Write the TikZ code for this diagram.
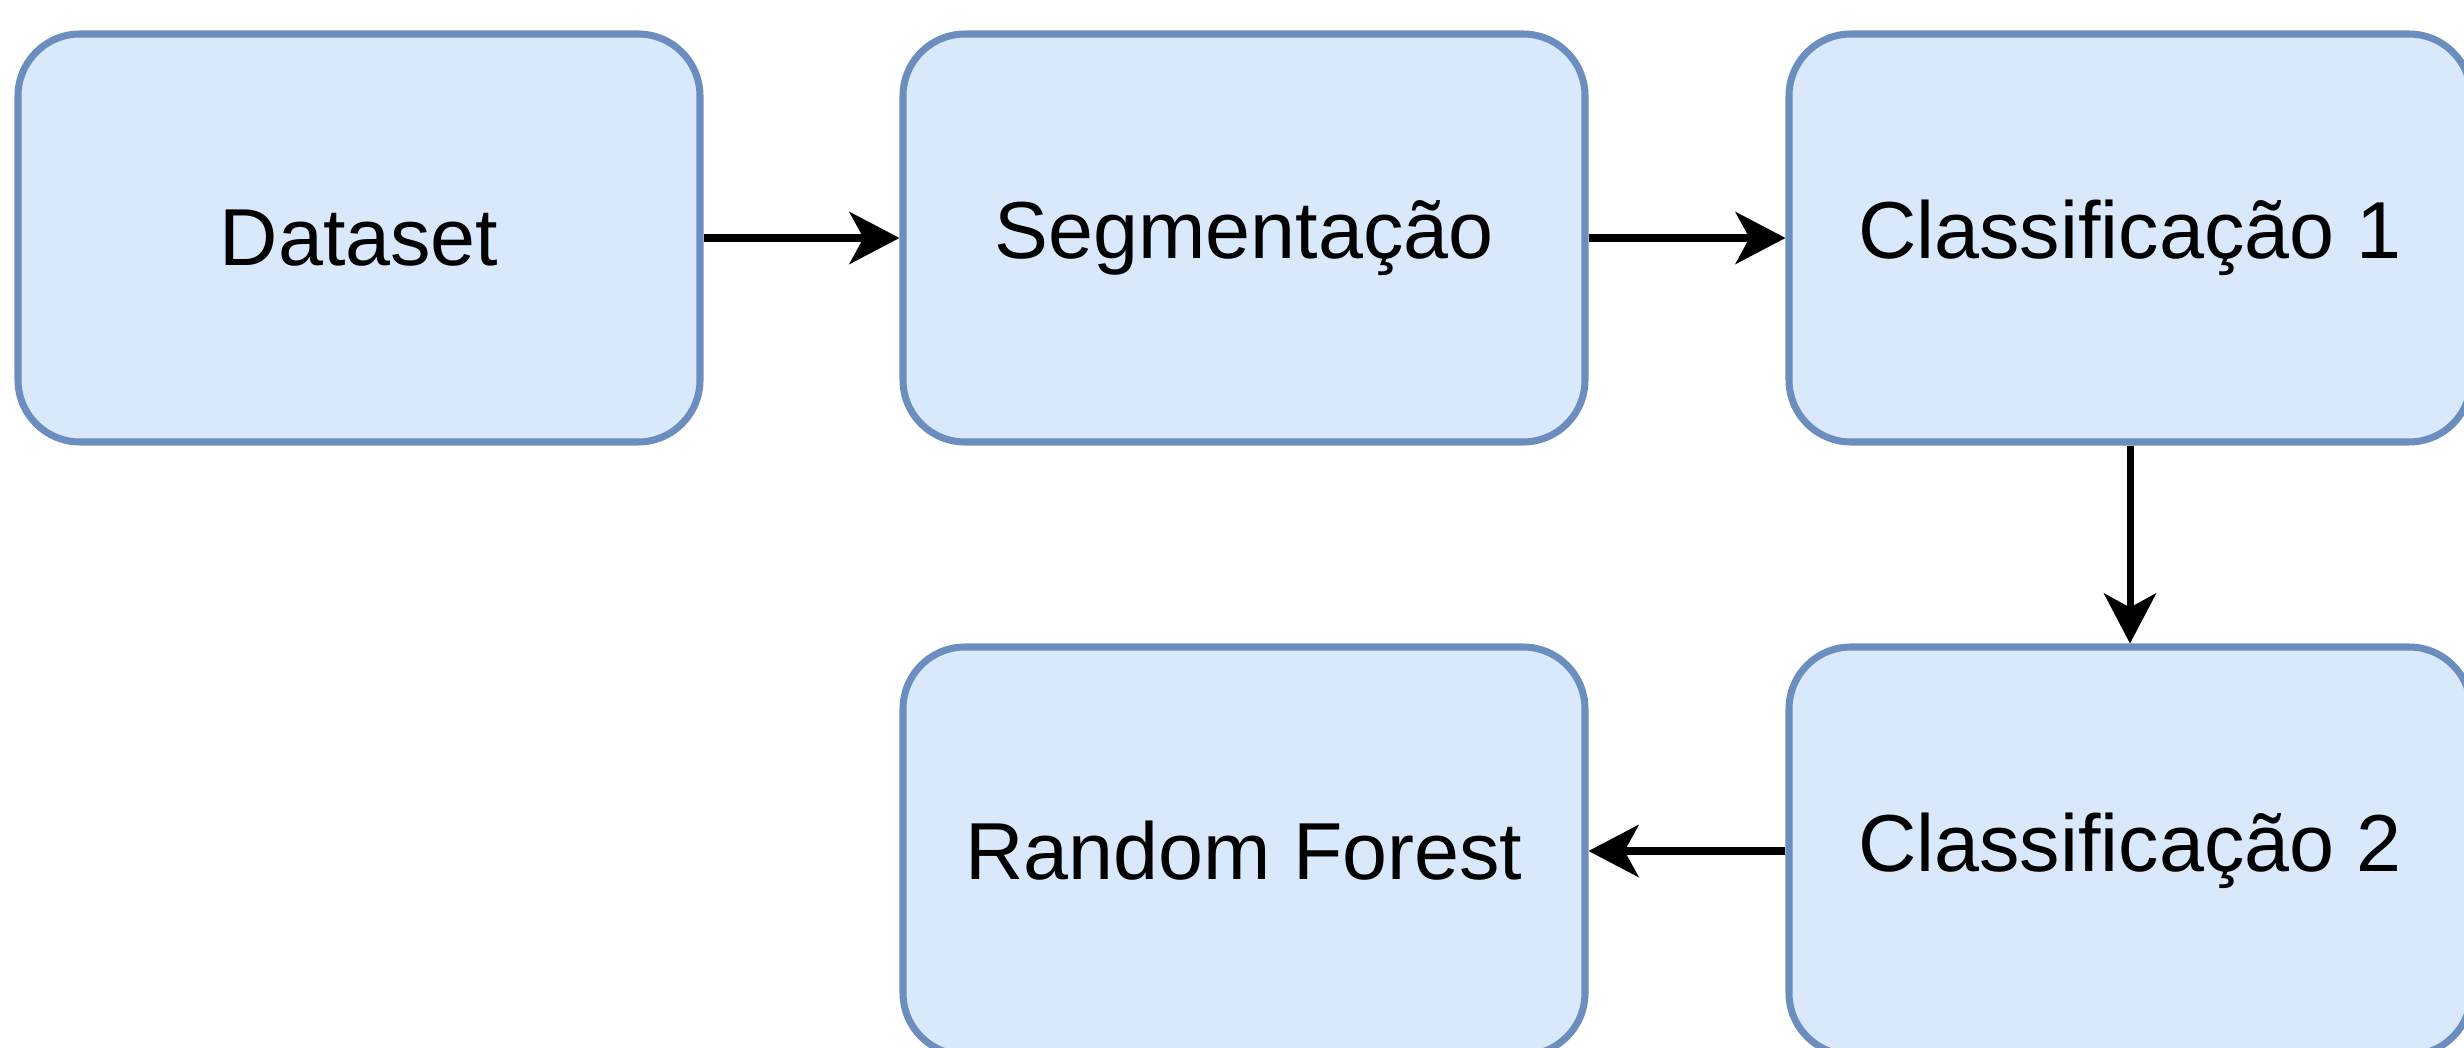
\documentclass[tikz,border=0pt]{standalone}
\usepackage{fontspec}
\setmainfont{Liberation Sans}
\usetikzlibrary{arrows.meta}
\definecolor{boxfill}{HTML}{DAE8FC}
\definecolor{boxline}{HTML}{6C8EBF}

\begin{document}
\begin{tikzpicture}[
    stepbox/.style={draw=boxline, fill=boxfill, line width=2pt, rounded corners=0.62cm,
      minimum width=6.82cm, minimum height=4.08cm, font=\fontsize{23}{28}\selectfont},
    flow/.style={line width=2pt, -{Stealth[length=5mm, width=5.2mm, inset=1.4mm]}}
  ]
        \useasboundingbox (0, 0) rectangle (24.64, 10.47);
        \path (3.59, 8.09) node[stepbox] (data) {Dataset} (12.44, 8.09) node[stepbox] (seg) {Segmentação} (21.30, 8.09) node[stepbox] (cls1) {Classificação 1} (21.30, 1.96) node[stepbox] (cls2) {Classificação 2} (12.44, 1.96) node[stepbox] (rf) {Random Forest};

        \draw[flow] (data) -- (seg);
        \draw[flow] (seg) -- (cls1);
        \draw[flow] (cls1) -- (cls2);
        \draw[flow] (cls2) -- (rf);
        \end{tikzpicture}
\end{document}
